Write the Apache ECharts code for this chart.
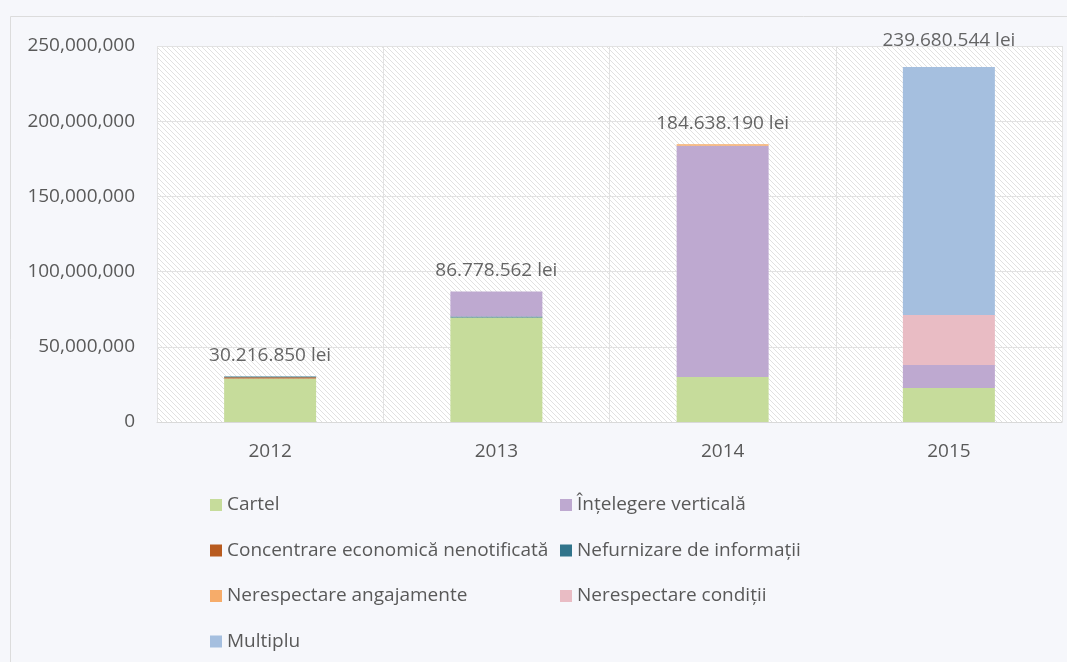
<!DOCTYPE html>
<html><head><meta charset="utf-8">
<script src="https://cdn.jsdelivr.net/npm/echarts@6/dist/echarts.min.js"></script>
<style>html,body{margin:0;padding:0;background:#f6f7fb;}#c{width:1067px;height:662px;}</style>
</head><body><div id="c"></div>
<script>
const years = ['2012', '2013', '2014', '2015'];
const cartel = [29000000, 69500000, 30000000, 22600000];
const intelegere = [0, 16600000, 153600000, 15300000];
const concentrare = [800000, 0, 0, 0];
const nefurnizare = [416850, 678562, 0, 0];
const angajamente = [0, 0, 1038190, 0];
const conditii = [0, 0, 0, 33200000];
const multiplu = [0, 0, 0, 165000000];
const totals = [30216850, 86778562, 184638190, 239680544];
const yTicks = [0, 50000000, 100000000, 150000000, 200000000, 250000000];

const seriesDefs = [
  {name: 'Cartel', data: cartel, color: '#c6dc9b'},
  {name: 'Concentrare economică nenotificată', data: concentrare, color: '#b85b1f'},
  {name: 'Nefurnizare de informații', data: nefurnizare, color: '#31748b'},
  {name: 'Înțelegere verticală', data: intelegere, color: '#bea9d0'},
  {name: 'Nerespectare angajamente', data: angajamente, color: '#f6ac6a'},
  {name: 'Nerespectare condiții', data: conditii, color: '#e9bcc4'},
  {name: 'Multiplu', data: multiplu, color: '#a5bfdf'}
];

function fmtComma(v){ return String(v).replace(/\B(?=(\d{3})+(?!\d))/g, ','); }
function fmtDot(v){ return String(v).replace(/\B(?=(\d{3})+(?!\d))/g, '.'); }

const pc = document.createElement('canvas');
pc.width = 5; pc.height = 5;
const g = pc.getContext('2d');
g.fillStyle = '#ffffff'; g.fillRect(0,0,5,5);
g.strokeStyle = '#d9d9d9'; g.lineWidth = 0.8;
g.beginPath(); g.moveTo(-1,-1); g.lineTo(6,6); g.moveTo(-1,4); g.lineTo(1,6); g.moveTo(4,-1); g.lineTo(6,1); g.stroke();

const txt = {color: '#595959', fontFamily: 'Open Sans', fontSize: 19};
const chart = echarts.init(document.getElementById('c'), null, {renderer: 'canvas'});
const series = seriesDefs.map(d => ({
  name: d.name, type: 'bar', stack: 'a', data: d.data, barWidth: 92,
  itemStyle: {color: d.color}
}));
series.push({
  name: 'total', type: 'scatter', data: totals, symbol: 'circle', symbolSize: 2, silent: true,
  itemStyle: {color: 'rgba(0,0,0,0)'}, z: 10,
  label: {show: true, position: 'top', distance: 10, ...txt, color: '#404040',
    formatter: p => fmtDot(totals[p.dataIndex]) + ' lei'}
});
chart.setOption({
  backgroundColor: '#f6f7fb',
  animation: false,
  graphic: [{type: 'rect', left: 8, top: 14, shape: {width: 1100, height: 700},
    style: {fill: 'none', stroke: '#dcdcdc', lineWidth: 1}, z: -1}],
  grid: {left: 157, right: 5, top: 46, bottom: 240, show: true,
    backgroundColor: {image: pc, repeat: 'repeat'}, borderWidth: 0},
  xAxis: {type: 'category', data: years,
    axisLine: {show: true, lineStyle: {color: '#d9d9d9'}}, axisTick: {show: false},
    splitLine: {show: true, lineStyle: {color: '#e2e2e2'}},
    axisLabel: {...txt, margin: 20}},
  yAxis: {type: 'value', min: 0, max: yTicks[yTicks.length-1], interval: yTicks[1]-yTicks[0],
    axisLine: {show: false}, axisTick: {show: false},
    splitLine: {lineStyle: {color: '#e2e2e2'}},
    axisLabel: {...txt, margin: 22, formatter: v => fmtComma(v)}},
  legend: [
    {data: ['Cartel', 'Concentrare economică nenotificată', 'Nerespectare angajamente', 'Multiplu'],
     orient: 'vertical', left: 210, top: 494, padding: 0, itemWidth: 12, itemHeight: 12, itemGap: 23.5,
     icon: 'rect', textStyle: {...txt, lineHeight: 22}},
    {data: ['Înțelegere verticală', 'Nefurnizare de informații', 'Nerespectare condiții'],
     orient: 'vertical', left: 560, top: 494, padding: 0, itemWidth: 12, itemHeight: 12, itemGap: 23.5,
     icon: 'rect', textStyle: {...txt, lineHeight: 22}}
  ],
  series
});
</script></body></html>
